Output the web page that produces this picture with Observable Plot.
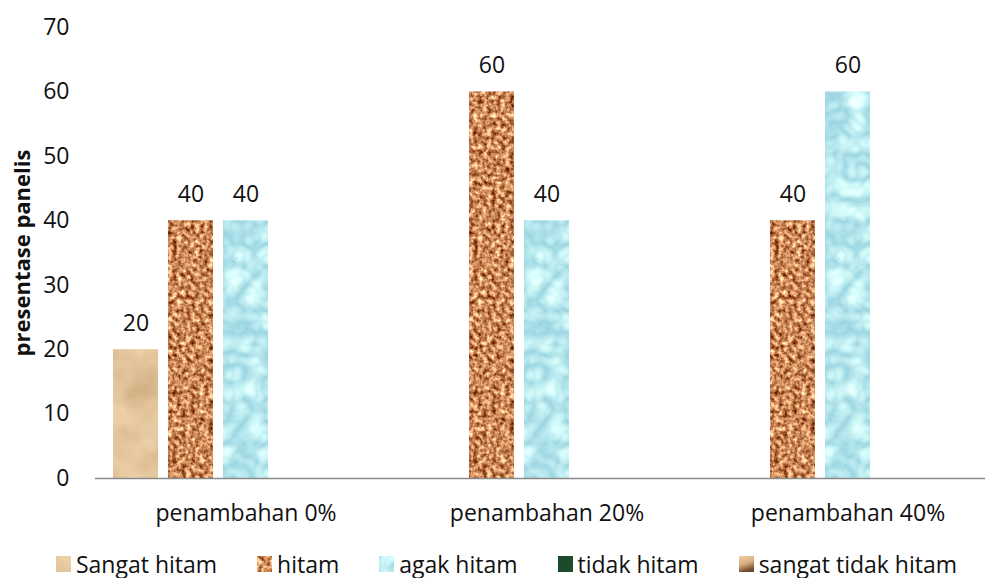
<!DOCTYPE html>
<html>
<head>
<meta charset="utf-8">
<script src="https://cdn.jsdelivr.net/npm/d3@7"></script>
<script src="https://cdn.jsdelivr.net/npm/@observablehq/plot@0.6"></script>
<style>
  html, body { margin: 0; padding: 0; background: white; overflow: hidden; }
  body { width: 985px; font-family: "Open Sans", sans-serif; }
  #legend {
    display: flex; justify-content: center; align-items: center;
    height: 28px; line-height: 28px; font-size: 23px; color: #111;
    padding-left: 28px; gap: 40px; white-space: nowrap;
  }
  #legend .item { display: flex; align-items: center; gap: 5px; }
  #legend svg { display: block; }
</style>
</head>
<body>
<div id="chart"></div>
<div id="legend"></div>
<script>
// Groups along the x axis and the five colour-rating categories
const groups = ["penambahan 0%", "penambahan 20%", "penambahan 40%"];
const series = ["Sangat hitam", "hitam", "agak hitam", "tidak hitam", "sangat tidak hitam"];

// Share of panelists (%) per category, one value per group (null = no bar)
const sangatHitam = [20, null, null];
const hitam = [40, 60, 40];
const agakHitam = [40, 40, 60];
const tidakHitam = [null, null, null];
const sangatTidakHitam = [null, null, null];

const yTicks = [0, 10, 20, 30, 40, 50, 60, 70];
const yLabel = "presentase panelis";

// Textured fills for each category
const fills = ["url(#sand)", "url(#cork)", "url(#water)", "#1d4a2a", "url(#fade)"];

const seriesValues = [sangatHitam, hitam, agakHitam, tidakHitam, sangatTidakHitam];
const rows = [];
groups.forEach((g, i) => {
  series.forEach((s, j) => {
    const v = seriesValues[j][i];
    if (v != null) rows.push({group: g, series: s, value: v});
  });
});

const chart = Plot.plot({
  width: 985,
  height: 550,
  marginLeft: 95,
  marginRight: -13,
  marginTop: 27,
  marginBottom: 72,
  style: {fontFamily: "Open Sans", fontSize: "23px", color: "#111", background: "white"},
  fx: {domain: groups, padding: 0, label: null, axis: null},
  x: {domain: series, paddingInner: 0.18, paddingOuter: 0.306, axis: null},
  y: {domain: [0, 70], axis: null},
  color: {domain: series, range: fills},
  marks: [
    Plot.barY(rows, {fx: "group", x: "series", y: "value", fill: "series"}),
    Plot.text(rows, {fx: "group", x: "series", y: "value", text: d => String(d.value),
      dy: -26, lineAnchor: "middle", fill: "#111", fontSize: 23}),
    Plot.ruleY([0], {stroke: "#8a8a8a", strokeWidth: 1.5}),
    Plot.axisY(yTicks, {tickSize: 0, tickPadding: 26, label: null, fontSize: 23}),
    Plot.axisFx({anchor: "bottom", tickSize: 0, tickPadding: 26, label: null, fontSize: 23}),
    Plot.text([yLabel], {fx: () => groups[0], frameAnchor: "left", rotate: -90, dx: -73,
      text: d => d, fontWeight: "bold", fontSize: 22, textAnchor: "middle",
      lineAnchor: "middle", fill: "#111"})
  ]
});

chart.insertAdjacentHTML("afterbegin", `
<defs>
  <filter id="sandF" x="0" y="0" width="100%" height="100%" color-interpolation-filters="sRGB">
    <feTurbulence type="fractalNoise" baseFrequency="0.025" numOctaves="3" seed="7"/>
    <feColorMatrix type="matrix" values="0.22 0 0 0 0.78  0.26 0 0 0 0.64  0.28 0 0 0 0.47  0 0 0 0 1"/>
  </filter>
  <filter id="corkF" x="0" y="0" width="100%" height="100%" color-interpolation-filters="sRGB">
    <feTurbulence type="fractalNoise" baseFrequency="0.22" numOctaves="3" seed="3"/>
    <feColorMatrix type="matrix" values="1.2 0 0 0 0.2  1.35 0 0 0 -0.14  1.2 0 0 0 -0.25  0 0 0 0 1"/>
  </filter>
  <filter id="waterF" x="0" y="0" width="100%" height="100%" color-interpolation-filters="sRGB">
    <feTurbulence type="turbulence" baseFrequency="0.045" numOctaves="2" seed="11"/>
    <feColorMatrix type="matrix" values="0.45 0 0 0 0.6  0.3 0 0 0 0.83  0.2 0 0 0 0.88  0 0 0 0 1"/>
  </filter>
  <pattern id="sand" patternUnits="userSpaceOnUse" width="320" height="600">
    <rect width="320" height="600" filter="url(#sandF)"/>
  </pattern>
  <pattern id="cork" patternUnits="userSpaceOnUse" width="320" height="600">
    <rect width="320" height="600" filter="url(#corkF)"/>
  </pattern>
  <pattern id="water" patternUnits="userSpaceOnUse" width="320" height="600">
    <rect width="320" height="600" filter="url(#waterF)"/>
  </pattern>
  <linearGradient id="fade" x1="0" y1="0" x2="0.3" y2="1">
    <stop offset="0" stop-color="#ecd0a8"/>
    <stop offset="0.55" stop-color="#d8ad7c"/>
    <stop offset="1" stop-color="#6e4a2c"/>
  </linearGradient>
</defs>`);

document.getElementById("chart").appendChild(chart);

// Legend below the chart
const legend = d3.select("#legend");
series.forEach((s, i) => {
  const item = legend.append("div").attr("class", "item");
  item.append("svg").attr("width", 15).attr("height", 16)
    .append("rect").attr("width", 15).attr("height", 16).attr("fill", fills[i]);
  item.append("span").text(s);
});
</script>
</body>
</html>
